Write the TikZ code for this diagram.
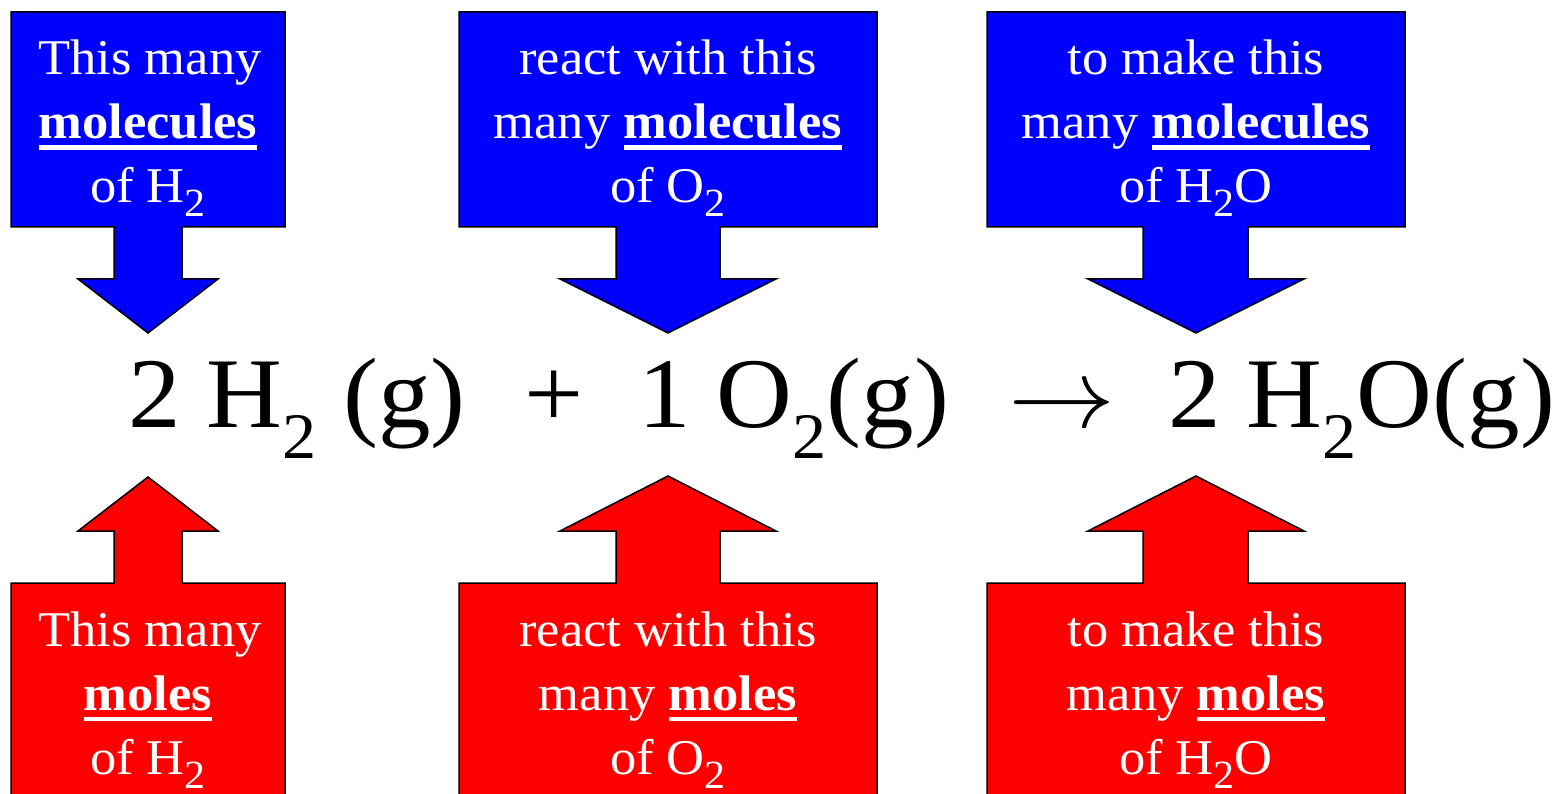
\documentclass[tikz,border=0pt]{standalone}
\usepackage{graphicx}
\usepackage{fontspec}
\setmainfont{Liberation Serif}[FakeStretch=1.05]
\definecolor{pblue}{RGB}{0,0,255}
\definecolor{pred}{RGB}{255,0,0}
\newcommand\calloutfont{\fontsize{50}{64}\selectfont}
\newcommand\eqfont{\fontsize{100}{120}\selectfont}
\newcommand\csub[1]{\raisebox{-14pt}{\fontsize{40}{40}\selectfont #1}}
\newcommand\esub[1]{\raisebox{-32pt}{\fontsize{65}{65}\selectfont #1}}
\newcommand\bigarrow{\scalebox{4.3}[4]{\fontsize{24.88}{30}\selectfont$\rightarrow$}}
\newsavebox\ulbox
\newcommand\ulbf[1]{\sbox\ulbox{\bfseries #1}\rlap{\rule[-11pt]{\wd\ulbox}{4.5pt}}\usebox\ulbox}
\begin{document}
\begin{tikzpicture}[x=1pt,y=-1pt,
  bluecallout/.style={fill=pblue, draw=black, line width=1.5pt, line join=miter},
  redcallout/.style={fill=pred, draw=black, line width=1.5pt, line join=miter},
  ctext/.style={text=white, inner sep=0pt, anchor=base, font=\calloutfont},
  eqtext/.style={text=black, inner sep=0pt, anchor=base west, font=\eqfont}]
\useasboundingbox (0,0) rectangle (1564,794);
\clip (0,0) rectangle (1564,794);
% blue callouts
\draw[bluecallout] (11,12) -- (285,12) -- (285,227) -- (182,227) -- (182,279) -- (218,279) -- (148,333) -- (78,279) -- (114,279) -- (114,227) -- (11,227) -- cycle;
\draw[bluecallout] (459,12) -- (877,12) -- (877,227) -- (720,227) -- (720,279) -- (776,279) -- (668,333) -- (560,279) -- (616,279) -- (616,227) -- (459,227) -- cycle;
\draw[bluecallout] (987,12) -- (1405,12) -- (1405,227) -- (1248,227) -- (1248,279) -- (1304,279) -- (1196,333) -- (1088,279) -- (1143,279) -- (1143,227) -- (987,227) -- cycle;
% red callouts
\draw[redcallout] (11,800) -- (11,583) -- (114,583) -- (114,531) -- (78,531) -- (148,477) -- (218,531) -- (182,531) -- (182,583) -- (285,583) -- (285,800) -- cycle;
\draw[redcallout] (459,800) -- (459,583) -- (616,583) -- (616,531) -- (560,531) -- (668,476) -- (776,531) -- (720,531) -- (720,583) -- (877,583) -- (877,800) -- cycle;
\draw[redcallout] (987,800) -- (987,583) -- (1143,583) -- (1143,531) -- (1088,531) -- (1196,476) -- (1304,531) -- (1248,531) -- (1248,583) -- (1405,583) -- (1405,800) -- cycle;
% blue texts
\node[ctext] (b1a) at (150,75) {This many};
\node[ctext] (b1b) at (148,139) {\ulbf{molecules}};
\node[ctext] (b1c) at (148,203) {of H\csub{2}};
\node[ctext] (b2a) at (668,75) {react with this};
\node[ctext] (b2b) at (668,139) {many \ulbf{molecules}};
\node[ctext] (b2c) at (668,203) {of O\csub{2}};
\node[ctext] (b3a) at (1196,75) {to make this};
\node[ctext] (b3b) at (1196,139) {many \ulbf{molecules}};
\node[ctext] (b3c) at (1196,203) {of H\csub{2}O};
% red texts
\node[ctext] (r1a) at (150,646) {This many};
\node[ctext] (r1b) at (148,710) {\ulbf{moles}};
\node[ctext] (r1c) at (148,774) {of H\csub{2}};
\node[ctext] (r2a) at (668,646) {react with this};
\node[ctext] (r2b) at (668,710) {many \ulbf{moles}};
\node[ctext] (r2c) at (668,774) {of O\csub{2}};
\node[ctext] (r3a) at (1196,646) {to make this};
\node[ctext] (r3b) at (1196,710) {many \ulbf{moles}};
\node[ctext] (r3c) at (1196,774) {of H\csub{2}O};
% equation
\node[eqtext] (t1) at (128,427) {2 H\esub{2} (g)};
\node[eqtext] (plus) at (524,427) {+};
\node[eqtext] (t2) at (638,427) {1 O\esub{2}(g)};
\node[eqtext] (arrow) at (1008,427) {\bigarrow};
\node[eqtext] (t3) at (1168,427) {2 H\esub{2}O(g)};
\end{tikzpicture}
\end{document}
